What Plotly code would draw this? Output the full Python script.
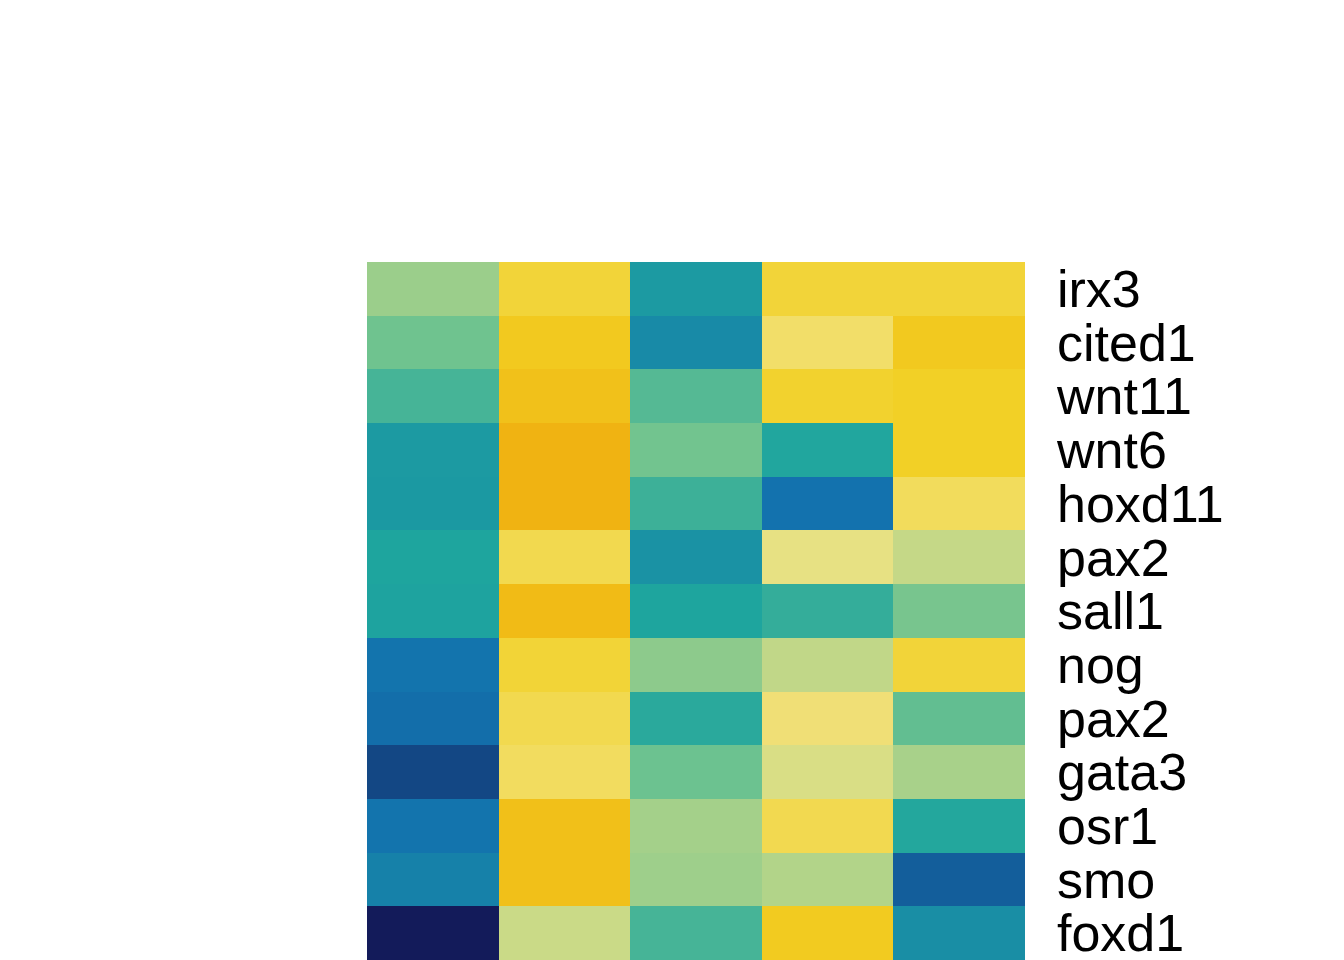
import plotly.graph_objects as go

genes = ["irx3", "cited1", "wnt11", "wnt6", "hoxd11", "pax2", "sall1",
         "nog", "pax2", "gata3", "osr1", "smo", "foxd1"]
samples = ["s1", "s2", "s3", "s4", "s5"]

values = [
    [0.475, 0.765, 0.217, 0.765, 0.765],
    [0.400, 0.855, 0.170, 0.670, 0.855],
    [0.324, 0.900, 0.352, 0.790, 0.810],
    [0.217, 0.980, 0.405, 0.255, 0.810],
    [0.215, 0.980, 0.307, 0.100, 0.680],
    [0.250, 0.712, 0.194, 0.632, 0.545],
    [0.245, 0.937, 0.250, 0.290, 0.415],
    [0.105, 0.770, 0.450, 0.538, 0.765],
    [0.095, 0.712, 0.272, 0.658, 0.376],
    [0.050, 0.678, 0.395, 0.595, 0.496],
    [0.105, 0.905, 0.490, 0.710, 0.260],
    [0.144, 0.910, 0.480, 0.513, 0.077],
    [0.000, 0.555, 0.324, 0.843, 0.182],
]

colorscale = [
    [0.00, "#131b5a"],
    [0.10, "#1372ae"],
    [0.25, "#1ea59e"],
    [0.40, "#6fc38f"],
    [0.55, "#c8d987"],
    [0.63, "#e6e184"],
    [0.66, "#f1df75"],
    [0.68, "#f2dc5c"],
    [0.82, "#f2cf22"],
    [1.00, "#f0b010"],
]

rows = list(range(len(genes)))
cols = list(range(len(samples)))

fig = go.Figure(go.Heatmap(
    z=values, x=cols, y=rows,
    colorscale=colorscale, zmin=0, zmax=1,
    showscale=False, xgap=0, ygap=0,
    hovertemplate="%{z}<extra></extra>",
))

fig.update_layout(
    width=1336, height=952,
    margin=dict(l=359, r=319, t=254, b=0, pad=0, autoexpand=False),
    paper_bgcolor="white", plot_bgcolor="white",
    font=dict(family="Liberation Sans, Arial, sans-serif", size=52, color="black"),
    xaxis=dict(visible=False, range=[-0.5, len(samples) - 0.5], automargin=False),
    yaxis=dict(
        range=[len(genes) - 0.5, -0.5], automargin=False,
        tickmode="array", tickvals=rows, ticktext=genes,
        side="right", showgrid=False, zeroline=False, showline=False,
        ticks="", ticklabelstandoff=31, ticklabeloverflow="allow",
        tickfont=dict(size=52, color="black"),
    ),
)

fig.write_html("out.html")
